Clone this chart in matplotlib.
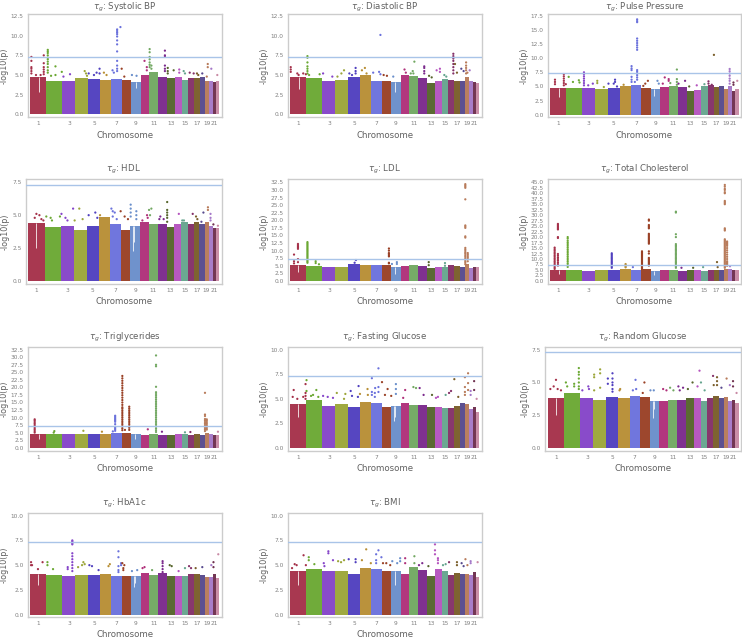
import numpy as np
import matplotlib
matplotlib.use("Agg")
import matplotlib.pyplot as plt
from matplotlib.ticker import MultipleLocator, FormatStrFormatter

# chromosome lengths (Mb) and colours
chrom_len = [249, 243, 198, 191, 181, 171, 159, 146, 141, 135, 135, 133, 115, 107, 102, 90, 81, 78, 59, 63, 48, 51]
chrom_col = ["#A5314A", "#6BA833", "#8545C9", "#9CA63A", "#5040BF", "#B88F35", "#6B72DC", "#9A4126", "#6A8FCB", "#B0307A", "#72A862",
             "#7B2A8C", "#56652B", "#B553BE", "#66A58F", "#843068", "#7A5E2A", "#584A8E", "#B87B5A", "#A578C8", "#6E2F4E", "#C98AA5"]
tick_chroms = [1, 3, 5, 7, 9, 11, 13, 15, 17, 19, 21]
threshold = 7.3

# solid part of the cloud per chromosome, and single hits as (chrom, Mb, [values])
sbp_cloud = [4.8, 4.3, 4.2, 4.6, 4.5, 4.4, 4.5, 4.4, 4.1, 5.0, 5.4, 4.7, 4.6, 4.7, 4.4, 4.6, 4.6, 4.8, 4.2, 4.2, 4.1, 4.3]
sbp_hits = [(1, 20, [7.3, 6.8, 6.0, 5.8, 5.5, 5.2]), (1, 208, [7.5, 6.5, 6.0, 5.7, 5.4, 5.1]), (1, 90, [5.0]), (1, 160, [5.0]),
            (2, 20, [8.2, 8.0, 7.8, 7.5, 7.2, 7.0, 6.7, 6.4, 6.0, 5.6, 5.3]), (2, 137, [6.1, 5.0]), (2, 233, [5.4]), (2, 70, [4.9]),
            (3, 115, [5.1]), (3, 15, [4.8]), (4, 140, [5.5]), (4, 160, [5.2]), (4, 175, [4.9]), (5, 10, [5.2]), (5, 90, [5.0]),
            (5, 130, [5.3]), (5, 175, [5.8, 5.2]), (6, 60, [5.3]), (6, 100, [5.0]), (7, 90, [10.8, 10.6, 10.4, 10.2, 9.9, 9.4, 8.9, 8.0, 6.8, 6.2, 5.8, 5.5]),
            (7, 140, [11.1]), (7, 20, [5.6]), (7, 40, [5.3]), (8, 0, [5.8]), (8, 40, [4.8]), (9, 10, [5.0]), (9, 80, [4.9]),
            (10, 60, [6.8]), (10, 95, [6.0, 5.6]), (11, 3, [8.3, 7.9, 7.3, 7.0, 6.6, 6.3, 6.0]), (11, 30, [6.2, 5.8]), (12, 100, [8.1, 7.5, 7.3, 6.2, 5.8, 5.5]),
            (13, 10, [5.9, 5.5, 5.2]), (13, 100, [5.6]), (14, 70, [5.7, 5.3]), (15, 30, [5.5]), (15, 50, [5.2]), (16, 20, [5.3]),
            (16, 80, [5.2]), (17, 40, [5.2]), (17, 60, [5.0]), (18, 40, [5.2]), (19, 30, [4.8]), (19, 45, [6.4, 6.0]), (20, 40, [5.8]), (22, 20, [5.0])]
sbp_dips = [(1, 135, 2.8), (9, 70, 3.3)]

dbp_cloud = [4.8, 4.6, 4.3, 4.4, 4.8, 5.0, 4.3, 4.2, 4.1, 5.0, 4.9, 4.6, 4.0, 4.3, 4.5, 4.4, 4.3, 4.3, 4.7, 4.2, 4.1, 4.0]
dbp_hits = [(1, 10, [6.0, 5.7, 5.4]), (1, 110, [5.2]), (1, 130, [5.0]), (1, 200, [5.2]), (1, 240, [5.1]), (2, 15, [7.4, 7.2, 6.6, 6.1, 5.8, 5.5, 5.2]),
            (2, 40, [5.0]), (2, 200, [5.1]), (3, 10, [5.2]), (3, 150, [4.8]), (4, 30, [4.8]), (4, 130, [5.6]), (4, 90, [5.2]), (5, 20, [5.2]), (5, 60, [5.0]),
            (5, 115, [5.9, 5.5, 5.2]), (6, 30, [5.6]), (6, 75, [5.9]), (6, 100, [5.2]), (7, 30, [5.3]), (7, 120, [5.4]), (7, 140, [10.1, 5.1]), (8, 30, [5.0]),
            (8, 80, [4.9]), (9, 30, [4.8]), (10, 60, [5.7]), (10, 80, [5.3]), (11, 50, [5.5]), (11, 60, [5.2]), (11, 75, [6.7]), (11, 20, [5.2]),
            (12, 90, [6.1, 5.9, 5.5, 5.2]), (13, 30, [4.9]), (13, 70, [4.7]), (14, 30, [5.6]), (14, 80, [5.8, 5.4]), (15, 40, [5.0]), (15, 70, [4.8]),
            (16, 75, [7.7, 7.4, 7.1, 6.8, 6.4, 6.0, 5.6, 5.2]), (17, 10, [6.4]), (17, 40, [5.3]), (18, 25, [5.8]), (18, 60, [5.5]), (19, 20, [6.6, 6.2, 5.9, 5.6, 5.2]),
            (19, 40, [5.3]), (20, 15, [5.6])]
dbp_dips = [(1, 135, 3.2), (9, 55, 2.8)]

pp_cloud = [4.8, 4.8, 4.8, 4.6, 4.7, 5.1, 5.2, 4.7, 4.6, 4.9, 5.0, 4.9, 4.2, 4.4, 5.0, 5.2, 4.9, 5.1, 4.5, 5.0, 4.2, 4.6]
pp_hits = [(1, 75, [6.2, 5.8, 5.4]), (1, 210, [7.2, 6.8, 6.4, 6.0, 5.6, 5.2]), (1, 240, [5.4]), (2, 35, [6.7]), (2, 100, [5.8]), (2, 190, [6.1]), (2, 200, [5.7]),
           (3, 25, [7.5, 7.2, 6.8, 6.4, 6.0, 5.6, 5.2]), (3, 90, [5.2]), (3, 160, [5.5]), (4, 30, [6.0, 5.6]), (4, 130, [4.9]), (5, 10, [5.5]), (5, 90, [5.5]),
           (5, 110, [6.2, 5.8]), (5, 140, [5.0]), (6, 60, [5.3]), (7, 10, [8.6, 8.2, 7.9, 6.7, 6.2, 5.8]),
           (7, 95, [16.9, 16.6, 16.4, 13.5, 13.1, 12.7, 12.3, 11.9, 11.5, 7.9, 7.6, 7.3, 7.0, 6.6, 6.2]), (7, 60, [5.8]), (8, 60, [5.5]), (8, 100, [6.0]), (8, 30, [5.1]),
           (9, 100, [6.0]), (9, 120, [5.5]), (10, 70, [6.6]), (10, 40, [5.5]), (10, 130, [6.3, 6.0]), (11, 120, [8.0, 6.3, 5.8, 5.3]), (11, 20, [5.6]), (12, 10, [5.5]),
           (12, 110, [6.0]), (13, 40, [5.0]), (14, 40, [5.2]), (15, 50, [5.4]), (16, 10, [5.9, 5.5]), (16, 60, [5.3]), (17, 3, [10.6]),
           (20, 25, [8.1, 7.7, 7.3, 6.9, 6.4, 6.0, 5.5]), (21, 20, [5.7, 5.3]), (22, 30, [6.0])]
pp_dips = [(1, 135, 3.2), (9, 50, 3.3)]

hdl_cloud = [4.4, 4.1, 4.2, 3.9, 4.2, 4.9, 4.3, 3.9, 4.2, 4.5, 4.3, 4.3, 4.1, 4.3, 4.5, 4.3, 4.5, 4.3, 4.5, 4.2, 4.0, 4.0]
hdl_hits = [(1, 125, [5.1]), (1, 100, [4.8]), (1, 170, [5.0]), (1, 200, [4.7]), (1, 230, [4.6]), (2, 25, [4.9]), (2, 90, [4.8]), (2, 110, [4.6]), (2, 230, [4.9]),
            (3, 10, [5.1]), (3, 70, [4.8]), (3, 100, [4.6]), (3, 185, [5.5]), (4, 10, [4.6]), (4, 80, [5.5]), (4, 130, [4.7]), (5, 30, [5.0]), (5, 130, [5.2]),
            (5, 160, [4.8]), (6, 20, [5.0]), (7, 20, [5.5]), (7, 40, [5.3, 4.9]), (7, 70, [5.2]), (7, 100, [4.7]), (8, 0, [5.3]), (8, 60, [4.9]), (8, 110, [4.7]),
            (9, 5, [5.8, 5.5, 5.2, 4.9]), (9, 90, [5.3, 5.0, 4.7]), (10, 40, [4.6]), (10, 110, [5.0]), (10, 120, [4.8]), (11, 5, [5.4]), (11, 40, [5.5]), (11, 20, [5.0]),
            (12, 25, [4.7]), (12, 40, [4.9]), (12, 90, [4.7]), (13, 10, [6.0, 5.4, 5.2, 5.0, 4.8, 4.5]), (14, 70, [5.1]), (15, 40, [4.6]), (15, 15, [4.6]), (16, 70, [5.1]),
            (17, 30, [4.9]), (17, 50, [4.7]), (18, 30, [4.5]), (18, 60, [5.2]), (19, 50, [5.6, 5.4]), (20, 30, [5.1, 4.8, 4.6]), (21, 10, [4.3]), (22, 30, [4.2])]
hdl_dips = [(1, 125, 2.5), (9, 45, 2.3), (9, 60, 3.0)]

ldl_cloud = [5.2, 4.8, 4.6, 4.6, 5.6, 5.1, 5.3, 5.2, 4.6, 5.0, 5.3, 4.9, 4.4, 4.7, 4.5, 5.2, 4.9, 4.7, 5.5, 4.3, 4.5, 4.5]
ldl_hits = [(1, 120, [12.2, 11.8, 11.4, 11.0, 10.6, 7.2, 6.2]), (1, 60, [8.7, 6.5, 5.8]),
            (2, 15, [12.8, 12.4, 12.0, 11.6, 11.2, 10.8, 10.4, 10.0, 9.6, 9.2, 8.8, 8.4, 8.0, 7.6, 7.2, 6.8, 6.4, 6.0]), (2, 140, [6.5, 5.9]), (2, 190, [5.5]),
            (5, 120, [6.9]), (5, 100, [6.0]), (8, 110, [10.7, 10.0, 9.2, 8.9, 8.5, 8.1, 6.0, 5.8]), (9, 85, [6.2, 5.6]), (9, 10, [5.6]), (13, 25, [6.2, 5.2]),
            (15, 50, [5.9, 5.0]), (19, 8, [31.9, 31.5, 31.1, 30.7, 26.9, 18.3, 17.9, 17.5, 14.7, 14.3, 10.9, 10.4, 9.9, 9.4, 9.0, 8.5, 8.0, 7.5, 7.0, 6.5, 6.0, 5.5]),
            (19, 45, [9.2, 8.7, 8.2, 7.7, 7.2, 6.5])]
ldl_dips = [(1, 125, 3.0), (9, 50, 2.2)]

tc_cloud = [4.8, 5.2, 4.7, 5.0, 5.2, 5.3, 5.0, 5.3, 4.5, 4.9, 5.0, 4.6, 4.9, 5.2, 4.7, 5.2, 5.2, 5.2, 5.3, 5.5, 5.0, 5.2]
tc_hits = [(1, 70, [15.2, 14.5, 13.8, 13.1, 12.4, 11.7, 11.0, 10.3, 9.6, 8.9, 8.2, 7.5, 6.8, 6.1, 5.5]),
           (1, 120, [26.0, 25.5, 25.0, 24.5, 24.0, 23.5, 20.0, 19.6, 12.3, 11.5, 10.7, 10.0, 9.3, 8.5, 7.7, 7.0]),
           (2, 20, [20.0, 19.3, 18.3, 17.5, 16.8, 16.0, 15.2, 14.4, 13.6, 12.8, 12.0, 11.2, 10.4, 9.6, 8.8, 8.0, 7.2, 6.4]),
           (5, 60, [12.6, 12.0, 11.4, 10.8, 10.2, 9.6, 9.0, 8.4, 7.8, 7.2, 6.6, 6.0]), (6, 90, [7.7, 7.2, 6.6, 6.2]), (7, 30, [6.3]),
           (8, 10, [13.5, 13.0, 12.5, 12.0, 11.5, 11.0, 10.5, 10.0, 9.5, 9.0, 8.5, 8.0, 7.5, 7.0, 6.5, 6.0, 5.5]),
           (8, 115, [28.0, 27.5, 25.5, 25.0, 24.5, 24.0, 21.5, 21.0, 20.5, 20.0, 19.5, 19.0, 18.5, 18.0, 17.5, 17.0, 13.5, 12.5, 10.5, 10.0, 9.5, 9.0, 8.5, 8.0, 7.5, 7.0]),
           (11, 105, [31.6, 31.2, 21.3, 20.0, 16.8, 16.2, 15.6, 15.0, 14.4, 13.8, 13.2, 12.6, 12.0, 11.4, 10.8, 10.2, 9.6, 9.0, 8.4, 7.8, 7.2, 6.6, 6.0]),
           (17, 50, [8.6]), (17, 60, [6.3]), (12, 55, [6.0]), (13, 100, [6.0]), (15, 30, [6.3]),
           (19, 10, [43.8, 43.0, 42.0, 41.5, 40.5, 40.0, 36.5, 36.0, 35.5, 35.0, 24.0, 23.5, 23.0, 19.0, 18.5, 18.0, 17.5, 17.0, 16.5, 16.0, 15.5, 15.0, 14.5, 14.0,
                     13.5, 13.0, 12.5, 12.0, 11.5, 11.0, 10.5, 10.0, 9.5, 9.0, 8.5, 8.0, 7.5, 7.0, 6.5, 6.0]),
           (19, 45, [18.0, 17.5, 17.0, 16.5, 16.0, 15.0, 14.0, 13.0, 12.0, 11.0, 10.0, 9.0, 8.5, 8.0, 7.5, 6.9]), (20, 30, [6.7])]
tc_dips = [(1, 130, 3.0), (9, 50, 2.5)]

tg_cloud = [4.5, 4.6, 4.6, 4.5, 4.6, 4.6, 4.8, 4.9, 4.4, 4.2, 4.4, 4.3, 4.2, 4.5, 4.5, 4.3, 4.5, 4.2, 5.0, 4.5, 4.1, 4.2]
tg_hits = [(1, 70, [9.4, 9.0, 8.5, 8.0, 7.5, 7.0, 6.5, 6.0, 5.5, 5.0]), (2, 120, [5.5]), (2, 110, [5.0]), (4, 120, [5.6]), (6, 30, [5.3]),
           (7, 60, [10.6, 10.2, 9.8, 9.4, 9.0, 8.6, 7.8, 6.9, 6.5, 6.1, 5.6]), (7, 25, [5.4]),
           (8, 10, [23.8, 23.0, 22.2, 21.4, 20.6, 19.8, 19.0, 18.2, 17.4, 16.6, 15.8, 15.0, 14.2, 13.4, 13.0, 12.4, 11.8, 11.2, 10.6, 10.0, 9.4, 8.8, 8.2, 7.6, 7.0, 6.4, 5.8]),
           (8, 115, [13.6, 13.0, 12.4, 11.8, 11.2, 10.6, 10.0, 9.4, 8.8, 8.2, 7.6, 6.6, 5.9]), (8, 50, [5.9]), (10, 110, [6.1]),
           (11, 100, [30.6, 27.5, 27.0, 20.2, 18.4, 17.8, 17.2, 16.6, 16.0, 15.4, 14.8, 14.2, 13.6, 13.0, 12.4, 11.8, 11.2, 10.6, 10.0, 9.4, 8.8, 8.2, 7.6, 7.0, 6.4, 5.8, 5.2]),
           (12, 55, [5.3]), (19, 3, [18.2, 11.0, 10.5, 9.5, 9.0, 8.5, 8.0, 7.5, 7.0, 6.5, 6.0, 5.5]), (19, 30, [9.4, 9.0, 8.5, 8.0, 7.5, 7.0, 6.5, 6.0]),
           (22, 30, [5.3]), (15, 50, [5.1]), (16, 30, [5.2])]
tg_dips = [(1, 130, 3.0), (9, 50, 2.8)]

fg_cloud = [4.5, 4.9, 4.3, 4.5, 4.2, 4.7, 4.6, 4.2, 4.3, 4.6, 4.4, 4.4, 4.2, 4.2, 4.1, 4.1, 4.3, 4.6, 4.5, 4.0, 4.2, 3.7]
fg_hits = [(1, 55, [5.9]), (1, 40, [5.2]), (1, 110, [5.0]), (1, 235, [6.5, 5.6, 5.3, 5.0]), (1, 200, [5.2]), (2, 1, [6.9, 5.8]), (2, 150, [5.9]), (2, 70, [5.3]),
           (2, 100, [5.4]), (2, 180, [5.2]), (3, 10, [5.3]), (3, 80, [5.2]), (3, 160, [5.1]), (4, 20, [5.6]), (4, 150, [5.5]), (4, 130, [5.0]), (5, 40, [5.8]),
           (5, 60, [5.3]), (5, 150, [5.2]), (5, 160, [6.3]), (6, 0, [5.5]), (6, 115, [6.0]), (6, 120, [5.4]), (7, 10, [7.1, 5.7, 5.4]), (7, 60, [6.1]), (7, 55, [5.6, 5.2]),
           (7, 110, [8.1, 6.2, 5.7]), (8, 5, [6.7]), (8, 50, [5.4]), (8, 90, [6.0]), (8, 145, [5.3]), (9, 70, [6.5, 6.0, 5.5]), (10, 70, [5.9]), (10, 40, [5.1]),
           (11, 60, [6.2]), (11, 100, [6.1]), (12, 20, [6.1]), (12, 80, [5.4]), (13, 75, [5.4]), (14, 20, [5.1]), (14, 50, [5.2]), (15, 60, [5.4]), (16, 10, [5.6]),
           (16, 40, [5.8]), (17, 0, [7.0]), (17, 60, [5.2]), (19, 2, [7.2, 6.2, 5.7, 5.4]), (19, 50, [7.6, 6.6, 5.9]), (21, 20, [6.8, 5.9]), (20, 30, [5.8, 5.4]), (22, 10, [5.0])]
fg_dips = [(1, 125, 3.2), (9, 45, 2.7), (9, 55, 3.2)]

rg_cloud = [3.8, 4.2, 3.8, 3.7, 3.9, 3.8, 4.0, 3.9, 3.6, 3.6, 3.7, 3.7, 3.8, 3.8, 3.6, 3.8, 4.0, 3.8, 3.9, 3.6, 3.7, 3.4]
rg_hits = [(1, 125, [5.2]), (1, 40, [4.5]), (1, 90, [4.7]), (1, 150, [4.5]), (1, 200, [4.4]), (2, 25, [5.0]), (2, 45, [4.7]), (2, 150, [4.9, 4.7]),
           (2, 220, [6.1, 5.8, 5.6, 5.3, 5.0, 4.7, 4.5]), (3, 30, [4.4]), (3, 120, [4.7]), (3, 130, [4.5]), (4, 10, [5.6, 5.4, 4.4]), (4, 100, [6.0, 5.7, 4.6]),
           (5, 25, [5.3, 4.9]), (5, 95, [5.7, 5.3, 5.0, 4.8, 4.5, 4.3]), (6, 30, [4.5]), (6, 20, [4.4]), (7, 90, [5.2]), (7, 100, [4.5]), (7, 50, [4.4]), (8, 65, [5.0]),
           (8, 40, [4.2]), (9, 10, [4.4]), (9, 60, [4.4]), (10, 60, [4.5]), (10, 110, [4.4]), (11, 30, [4.6]), (11, 80, [4.4]), (12, 20, [4.7]), (12, 40, [4.4]), (12, 90, [4.6]),
           (13, 100, [5.0]), (13, 30, [4.5]), (14, 60, [4.7]), (14, 90, [5.9]), (15, 5, [5.0]), (15, 60, [4.4]), (16, 85, [5.5]), (17, 5, [4.8]), (17, 55, [5.4, 5.1, 4.8]),
           (18, 40, [4.6]), (19, 40, [5.3]), (21, 15, [5.1, 4.7]), (20, 30, [4.8]), (22, 20, [4.2])]
rg_dips = [(1, 125, 2.5), (9, 45, 2.3), (9, 60, 3.0)]

a1c_cloud = [4.1, 4.0, 3.9, 4.0, 4.0, 4.1, 3.9, 3.9, 3.9, 4.2, 4.0, 4.2, 3.9, 3.9, 3.9, 4.1, 4.1, 4.0, 3.8, 3.8, 4.1, 3.7]
a1c_hits = [(1, 15, [5.3, 5.0]), (1, 30, [5.0]), (1, 120, [4.6]), (1, 190, [5.3]), (2, 15, [5.3, 5.0]), (2, 100, [4.6]), (3, 80, [4.8, 4.6]),
            (3, 150, [7.5, 7.4, 7.3, 7.2, 7.1, 6.2, 5.9, 5.6, 5.3, 5.0, 4.7, 4.4]), (4, 40, [4.8]), (4, 100, [5.0]), (4, 120, [5.3]), (4, 140, [5.1]), (5, 20, [5.0]),
            (5, 60, [4.9]), (5, 160, [4.5]), (6, 150, [5.1]), (6, 130, [4.9]), (7, 110, [6.4, 5.8, 4.9, 4.5, 4.3]), (7, 150, [5.2, 5.0]), (8, 10, [5.2]), (8, 25, [4.7, 4.5]),
            (8, 40, [5.0]), (9, 10, [4.4]), (9, 90, [4.5]), (10, 30, [4.7]), (10, 60, [4.8]), (11, 40, [4.5]), (12, 65, [5.4, 5.2, 4.9, 4.6, 4.3]), (13, 40, [5.0]),
            (13, 70, [4.9]), (14, 60, [4.4]), (15, 50, [4.7]), (16, 10, [4.9]), (16, 40, [4.7]), (17, 20, [4.7]), (18, 40, [4.8]), (20, 40, [5.0]), (21, 10, [5.3, 4.8]), (22, 35, [6.1])]
a1c_dips = [(1, 125, 3.0), (9, 45, 2.8), (9, 55, 3.2)]

bmi_cloud = [4.4, 4.6, 4.4, 4.4, 4.1, 4.7, 4.6, 4.4, 4.4, 4.1, 4.8, 4.5, 3.9, 4.6, 4.4, 4.0, 4.2, 4.1, 4.1, 4.0, 4.3, 3.8]
bmi_hits = [(1, 70, [5.1]), (1, 30, [4.7]), (1, 100, [5.0]), (1, 205, [6.0]), (1, 240, [5.0]), (2, 35, [5.8, 5.5]), (2, 120, [5.1]), (3, 20, [5.2]), (3, 30, [4.9]),
            (3, 90, [6.4, 6.2]), (3, 160, [5.5]), (4, 40, [5.4]), (4, 85, [5.3]), (4, 130, [5.5]), (5, 10, [5.6]), (5, 115, [5.6, 5.3]), (6, 30, [5.5]), (6, 95, [6.6]),
            (6, 165, [5.2]), (7, 75, [6.1, 5.5, 5.2]), (7, 110, [6.5]), (7, 155, [5.8]), (8, 20, [5.2]), (8, 70, [5.2]), (8, 130, [5.0]), (9, 15, [5.4]), (9, 90, [5.2]),
            (9, 135, [5.7, 5.4]), (10, 70, [5.7, 5.2]), (11, 75, [5.9, 5.2]), (12, 10, [5.0]), (12, 60, [5.2]), (13, 20, [4.9]), (14, 5, [7.1, 6.5, 6.1]), (14, 50, [5.7, 5.5, 5.2]),
            (15, 20, [5.0]), (15, 60, [5.1]), (16, 10, [5.3]), (17, 40, [5.3, 5.0]), (18, 30, [5.2]), (18, 60, [4.9]), (19, 10, [5.6]), (19, 40, [5.0]), (20, 30, [5.4, 5.2]), (22, 25, [5.3])]
bmi_dips = [(1, 125, 3.0), (9, 50, 3.0)]

titles = ["Systolic BP", "Diastolic BP", "Pulse Pressure", "HDL", "LDL", "Total Cholesterol",
          "Triglycerides", "Fasting Glucose", "Random Glucose", "HbA1c", "BMI"]
clouds = [sbp_cloud, dbp_cloud, pp_cloud, hdl_cloud, ldl_cloud, tc_cloud, tg_cloud, fg_cloud, rg_cloud, a1c_cloud, bmi_cloud]
hits = [sbp_hits, dbp_hits, pp_hits, hdl_hits, ldl_hits, tc_hits, tg_hits, fg_hits, rg_hits, a1c_hits, bmi_hits]
dips = [sbp_dips, dbp_dips, pp_dips, hdl_dips, ldl_dips, tc_dips, tg_dips, fg_dips, rg_dips, a1c_dips, bmi_dips]
ylims = [(-0.38, 12.8), (-0.38, 12.8), (-0.47, 17.9), (-0.23, 7.75), (-1.0, 33.6), (-1.4, 46.5),
         (-1.1, 33.5), (-0.3, 10.3), (-0.23, 7.73), (-0.24, 10.24), (-0.24, 10.24)]

# axes boxes in pixels: left, top, right, bottom
boxes = [(27.7, 13.7, 221.7, 117.3), (287.7, 13.7, 481.7, 117.3), (547.7, 13.7, 741.0, 117.3),
         (25.7, 179, 221.7, 284), (287.7, 179, 481.7, 284), (547.7, 179, 741.0, 284),
         (27.7, 346.7, 221.7, 451), (287.7, 346.7, 481.7, 451), (545.3, 346.7, 741.0, 451),
         (27.7, 513.3, 221.7, 617), (287.7, 513.3, 481.7, 617)]

W, H = 742, 638
starts = np.concatenate([[0], np.cumsum(chrom_len)[:-1]])
total = sum(chrom_len)

fig = plt.figure(figsize=(W / 100, H / 100), dpi=100)

for i in range(len(titles)):
    l, t, r, b = boxes[i]
    ax = fig.add_axes([l / W, 1 - b / H, (r - l) / W, (b - t) / H])

    ax.bar(starts, clouds[i], width=chrom_len, align="edge", color=chrom_col, linewidth=0, alpha=0.97)

    # thin white notches where the cloud drops (centromeres)
    for chrom, mb, low in dips[i]:
        ax.vlines(starts[chrom - 1] + mb, low, clouds[i][chrom - 1], color="white", linewidth=0.7, alpha=0.8)

    xs, ys, cs = [], [], []
    for chrom, mb, vals in hits[i]:
        for v in vals:
            xs.append(starts[chrom - 1] + mb)
            ys.append(v)
            cs.append(chrom_col[chrom - 1])
    ax.scatter(xs, ys, s=2.6, c=cs, linewidths=0, zorder=2)

    ax.axhline(threshold, color="#A9C4E8", linewidth=1, zorder=3)

    ax.set_xlim(-36, total + 36)
    ax.set_ylim(*ylims[i])
    ax.set_xticks([starts[c - 1] + chrom_len[c - 1] / 2 for c in tick_chroms])
    ax.set_xticklabels(tick_chroms)
    ax.yaxis.set_major_locator(MultipleLocator(2.5))
    ax.yaxis.set_major_formatter(FormatStrFormatter("%.1f"))
    ax.tick_params(length=0, labelsize=4.2, labelcolor="#808080", pad=3)

    for s in ax.spines.values():
        s.set_color("#CCCCCC")
        s.set_linewidth(1)

    # top row has little room above it
    title_pad = 3.2 if i < 3 else 5.5
    ax.set_title(r"$\tau_g$: " + titles[i], fontsize=6.2, color="#606060", pad=title_pad)
    ax.set_xlabel("Chromosome", fontsize=6.2, color="#606060", labelpad=3)
    ax.set_ylabel("-log10(p)", fontsize=5.8, color="#606060", labelpad=1.5)

plt.savefig("out.png", dpi=100)
